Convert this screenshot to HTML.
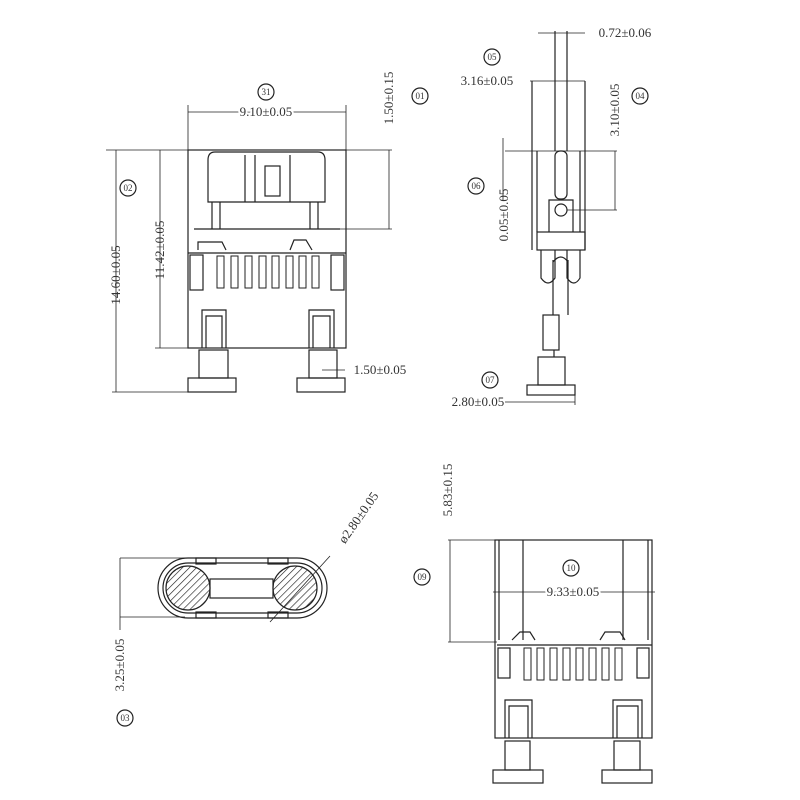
<!DOCTYPE html>
<html><head><meta charset="utf-8"><style>body{margin:0;background:#fff}svg{display:block}text{font-family:"Liberation Serif",serif;fill:#333;font-size:13px}</style></head><body>
<svg width="800" height="800" viewBox="0 0 800 800" xmlns="http://www.w3.org/2000/svg">
<defs><pattern id="h" width="5" height="5" patternUnits="userSpaceOnUse" patternTransform="rotate(45)"><line x1="0" y1="0" x2="0" y2="5" stroke="#222" stroke-width="1.3"/></pattern></defs>
<g fill="none" stroke="#222" stroke-width="1.2">
<rect x="188" y="150" width="158" height="198"/>
<line x1="188" y1="253" x2="346" y2="253"/>
<path d="M208 160 Q208 152 215 152 L318 152 Q325 152 325 160 L325 202 L208 202 Z"/>
<line x1="212" y1="202" x2="212" y2="229"/><line x1="220" y1="202" x2="220" y2="229"/><line x1="318" y1="202" x2="318" y2="229"/><line x1="310" y1="202" x2="310" y2="229"/>
<line x1="194" y1="229" x2="340" y2="229"/>
<line x1="245" y1="155" x2="245" y2="202"/><line x1="255" y1="155" x2="255" y2="202"/><line x1="290" y1="155" x2="290" y2="202"/>
<rect x="265" y="166" width="15" height="30"/>
<path d="M198 250 L198 242 L222 242 L226 250 M290 250 L294 240 L306 240 L312 250"/>
<rect x="190" y="255" width="13" height="35"/><rect x="331" y="255" width="13" height="35"/>
<g stroke-width="1">
<rect x="217" y="256" width="7" height="32"/><rect x="231" y="256" width="7" height="32"/><rect x="245" y="256" width="7" height="32"/><rect x="259" y="256" width="7" height="32"/><rect x="272" y="256" width="7" height="32"/><rect x="286" y="256" width="7" height="32"/><rect x="299" y="256" width="7" height="32"/><rect x="312" y="256" width="7" height="32"/>
</g>
<path d="M202 348 L202 310 L226 310 L226 348 M206 348 L206 316 L222 316 L222 348"/>
<path d="M309 348 L309 310 L334 310 L334 348 M313 348 L313 316 L330 316 L330 348"/>
<rect x="199" y="350" width="29" height="28"/><rect x="188" y="378" width="48" height="14"/>
<rect x="309" y="350" width="28" height="28"/><rect x="297" y="378" width="48" height="14"/>
<g stroke-width="0.8">
<line x1="188" y1="112" x2="346" y2="112"/><line x1="188" y1="105" x2="188" y2="150"/><line x1="346" y1="105" x2="346" y2="150"/>
<line x1="346" y1="150" x2="392" y2="150"/><line x1="340" y1="229" x2="392" y2="229"/><line x1="389" y1="150" x2="389" y2="229"/>
<line x1="106" y1="150" x2="188" y2="150"/><line x1="112" y1="392" x2="188" y2="392"/><line x1="116" y1="150" x2="116" y2="392"/>
<line x1="160" y1="150" x2="160" y2="348"/><line x1="155" y1="348" x2="188" y2="348"/>
<line x1="322" y1="370" x2="345" y2="370"/>
</g>
<circle cx="266" cy="92" r="8"/><circle cx="420" cy="96" r="8"/><circle cx="128" cy="188" r="8"/>
<line x1="555" y1="31" x2="555" y2="151"/><line x1="567" y1="31" x2="567" y2="151"/>
<g stroke-width="0.8">
<line x1="538" y1="33" x2="585" y2="33"/><line x1="530" y1="81" x2="585" y2="81"/>
<line x1="505" y1="151" x2="617" y2="151"/><line x1="615" y1="151" x2="615" y2="210"/><line x1="567" y1="210" x2="617" y2="210"/>
<line x1="503" y1="138" x2="503" y2="200"/><line x1="505" y1="402" x2="575" y2="402"/><line x1="575" y1="395" x2="575" y2="405"/>
</g>
<line x1="532" y1="81" x2="532" y2="250"/><line x1="585" y1="81" x2="585" y2="250"/>
<line x1="537" y1="151" x2="537" y2="232"/><line x1="580" y1="151" x2="580" y2="232"/>
<rect x="555" y="151" width="12" height="48" rx="5"/>
<path d="M549 232 L549 200 L573 200 L573 232"/><circle cx="561" cy="210" r="6"/>
<rect x="537" y="232" width="48" height="18"/>
<path d="M541 250 L541 278 Q548 288 555 278 L555 250 M567 250 L567 278 Q574 288 580 278 L580 250"/>
<line x1="553" y1="260" x2="553" y2="315"/><line x1="568" y1="260" x2="568" y2="315"/>
<path d="M553 262 Q561 252 568 262"/>
<rect x="543" y="315" width="16" height="35"/><line x1="554" y1="350" x2="554" y2="357"/>
<rect x="538" y="357" width="27" height="28"/><rect x="527" y="385" width="48" height="10"/>
<circle cx="492" cy="57" r="8"/><circle cx="640" cy="96" r="8"/><circle cx="476" cy="186" r="8"/><circle cx="490" cy="380" r="8"/>
<rect x="158" y="558" width="169" height="60" rx="30"/>
<rect x="163" y="563" width="159" height="50" rx="25"/>
<circle cx="188" cy="588" r="22" fill="url(#h)"/><circle cx="295" cy="588" r="22" fill="url(#h)"/>
<rect x="210" y="579" width="63" height="19"/>
<rect x="196" y="558" width="20" height="6"/><rect x="268" y="558" width="20" height="6"/><rect x="196" y="612" width="20" height="6"/><rect x="268" y="612" width="20" height="6"/>
<g stroke-width="0.8"><line x1="120" y1="558" x2="185" y2="558"/><line x1="120" y1="617" x2="185" y2="617"/><line x1="120" y1="558" x2="120" y2="630"/><line x1="270" y1="622" x2="330" y2="556"/></g>
<circle cx="125" cy="718" r="8"/>
<rect x="495" y="540" width="157" height="198"/>
<line x1="499" y1="540" x2="499" y2="640"/><line x1="523" y1="540" x2="523" y2="640"/><line x1="623" y1="540" x2="623" y2="640"/><line x1="648" y1="540" x2="648" y2="640"/>
<path d="M497 645 L652 645 M512 640 L520 632 L530 632 L535 640 M600 640 L605 632 L620 632 L625 640"/>
<rect x="498" y="648" width="12" height="30"/><rect x="637" y="648" width="12" height="30"/>
<g stroke-width="1">
<rect x="524" y="648" width="7" height="32"/><rect x="537" y="648" width="7" height="32"/><rect x="550" y="648" width="7" height="32"/><rect x="563" y="648" width="7" height="32"/><rect x="576" y="648" width="7" height="32"/><rect x="589" y="648" width="7" height="32"/><rect x="602" y="648" width="7" height="32"/><rect x="615" y="648" width="7" height="32"/>
</g>
<path d="M505 738 L505 700 L532 700 L532 738 M509 738 L509 706 L528 706 L528 738"/>
<path d="M613 738 L613 700 L642 700 L642 738 M617 738 L617 706 L638 706 L638 738"/>
<rect x="505" y="741" width="25" height="29"/><rect x="493" y="770" width="50" height="13"/>
<rect x="614" y="741" width="26" height="29"/><rect x="602" y="770" width="50" height="13"/>
<g stroke-width="0.8"><line x1="493" y1="592" x2="655" y2="592"/><line x1="448" y1="540" x2="495" y2="540"/><line x1="448" y1="642" x2="497" y2="642"/><line x1="450" y1="540" x2="450" y2="642"/></g>
<circle cx="571" cy="568" r="8"/><circle cx="422" cy="577" r="8"/>
</g>
<g text-anchor="middle">
<text x="266" y="95" style="font-size:9px">31</text><text x="420" y="99" style="font-size:9px">01</text><text x="128" y="191" style="font-size:9px">02</text>
<text x="492" y="60" style="font-size:9px">05</text><text x="640" y="99" style="font-size:9px">04</text><text x="476" y="189" style="font-size:9px">06</text><text x="490" y="383" style="font-size:9px">07</text>
<text x="125" y="721" style="font-size:9px">03</text><text x="571" y="571" style="font-size:9px">10</text><text x="422" y="580" style="font-size:9px">09</text>
</g>
<g text-anchor="middle">
<text x="266" y="116" stroke="#fff" stroke-width="4" paint-order="stroke">9.10±0.05</text>
<text transform="translate(393,98) rotate(-90)">1.50±0.15</text>
<text transform="translate(120,275) rotate(-90)">14.60±0.05</text>
<text transform="translate(164,250) rotate(-90)">11.42±0.05</text>
<text x="380" y="374">1.50±0.05</text>
<text x="625" y="37">0.72±0.06</text>
<text x="487" y="85">3.16±0.05</text>
<text transform="translate(619,110) rotate(-90)">3.10±0.05</text>
<text transform="translate(508,215) rotate(-90)">0.05±0.05</text>
<text x="478" y="406">2.80±0.05</text>
<text transform="translate(124,665) rotate(-90)">3.25±0.05</text>
<text transform="translate(362,520) rotate(-55)">ø2.80±0.05</text>
<text transform="translate(452,490) rotate(-90)">5.83±0.15</text>
<text x="573" y="596" stroke="#fff" stroke-width="4" paint-order="stroke">9.33±0.05</text>
</g>
</svg>
</body></html>
